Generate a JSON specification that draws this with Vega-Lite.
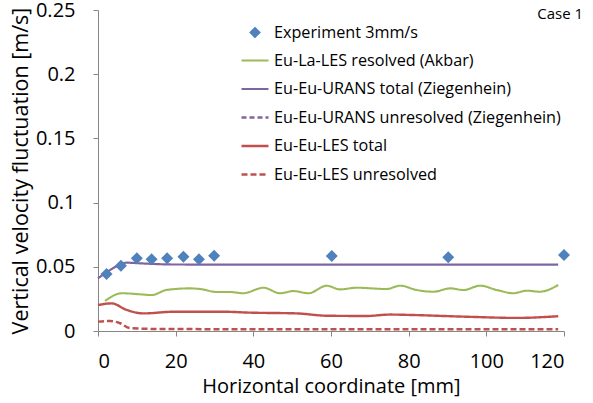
{
  "$schema": "https://vega.github.io/schema/vega-lite/v6.json",
  "width": 466,
  "height": 321,
  "autosize": {"type": "none"},
  "padding": {"left": 98, "top": 10, "right": 29, "bottom": 72},
  "config": {
    "view": {"stroke": null},
    "font": "Open Sans",
    "axis": {
      "grid": false,
      "domainColor": "#868686",
      "tickColor": "#868686",
      "tickSize": 5,
      "labelColor": "#000000",
      "titleColor": "#000000",
      "labelFontSize": 20,
      "titleFontSize": 20,
      "titleFontWeight": "normal",
      "labelFont": "Open Sans",
      "titleFont": "Open Sans"
    },
    "legend": {
      "labelFont": "Open Sans",
      "labelFontSize": 16.2,
      "labelColor": "#000000",
      "labelLimit": 0,
      "symbolSize": 729,
      "symbolStrokeWidth": 2.5,
      "labelOffset": 4,
      "rowPadding": 4.5,
      "padding": 0
    }
  },
  "data": {
    "values": [
      {"series": "Experiment 3mm/s", "x": 2.2, "y": 0.0444},
      {"series": "Experiment 3mm/s", "x": 5.9, "y": 0.0509},
      {"series": "Experiment 3mm/s", "x": 10, "y": 0.0566},
      {"series": "Experiment 3mm/s", "x": 13.8, "y": 0.0558},
      {"series": "Experiment 3mm/s", "x": 17.8, "y": 0.0566},
      {"series": "Experiment 3mm/s", "x": 22, "y": 0.0579},
      {"series": "Experiment 3mm/s", "x": 26, "y": 0.0558},
      {"series": "Experiment 3mm/s", "x": 29.9, "y": 0.0587},
      {"series": "Experiment 3mm/s", "x": 60.2, "y": 0.0584},
      {"series": "Experiment 3mm/s", "x": 90.2, "y": 0.0574},
      {"series": "Experiment 3mm/s", "x": 120, "y": 0.0592},

      {"series": "Eu-La-LES resolved (Akbar)", "x": 1.8, "y": 0.0234},
      {"series": "Eu-La-LES resolved (Akbar)", "x": 6.1, "y": 0.0294},
      {"series": "Eu-La-LES resolved (Akbar)", "x": 10.8, "y": 0.0286},
      {"series": "Eu-La-LES resolved (Akbar)", "x": 13.8, "y": 0.028},
      {"series": "Eu-La-LES resolved (Akbar)", "x": 17.7, "y": 0.032},
      {"series": "Eu-La-LES resolved (Akbar)", "x": 23.7, "y": 0.0332},
      {"series": "Eu-La-LES resolved (Akbar)", "x": 26.3, "y": 0.0327},
      {"series": "Eu-La-LES resolved (Akbar)", "x": 30.6, "y": 0.0304},
      {"series": "Eu-La-LES resolved (Akbar)", "x": 34, "y": 0.0304},
      {"series": "Eu-La-LES resolved (Akbar)", "x": 37.4, "y": 0.0294},
      {"series": "Eu-La-LES resolved (Akbar)", "x": 42.6, "y": 0.0337},
      {"series": "Eu-La-LES resolved (Akbar)", "x": 46.9, "y": 0.0294},
      {"series": "Eu-La-LES resolved (Akbar)", "x": 50.3, "y": 0.0311},
      {"series": "Eu-La-LES resolved (Akbar)", "x": 54.2, "y": 0.0294},
      {"series": "Eu-La-LES resolved (Akbar)", "x": 58.9, "y": 0.0353},
      {"series": "Eu-La-LES resolved (Akbar)", "x": 62.3, "y": 0.0324},
      {"series": "Eu-La-LES resolved (Akbar)", "x": 66.6, "y": 0.0337},
      {"series": "Eu-La-LES resolved (Akbar)", "x": 74.3, "y": 0.0327},
      {"series": "Eu-La-LES resolved (Akbar)", "x": 77.8, "y": 0.0353},
      {"series": "Eu-La-LES resolved (Akbar)", "x": 82.1, "y": 0.0319},
      {"series": "Eu-La-LES resolved (Akbar)", "x": 86.4, "y": 0.0306},
      {"series": "Eu-La-LES resolved (Akbar)", "x": 90.7, "y": 0.0332},
      {"series": "Eu-La-LES resolved (Akbar)", "x": 94.1, "y": 0.0319},
      {"series": "Eu-La-LES resolved (Akbar)", "x": 98.4, "y": 0.0353},
      {"series": "Eu-La-LES resolved (Akbar)", "x": 102.7, "y": 0.0319},
      {"series": "Eu-La-LES resolved (Akbar)", "x": 107, "y": 0.0294},
      {"series": "Eu-La-LES resolved (Akbar)", "x": 110.4, "y": 0.0314},
      {"series": "Eu-La-LES resolved (Akbar)", "x": 113.8, "y": 0.0306},
      {"series": "Eu-La-LES resolved (Akbar)", "x": 118.5, "y": 0.0358},

      {"series": "Eu-Eu-URANS total (Ziegenhein)", "x": 0, "y": 0.041},
      {"series": "Eu-Eu-URANS total (Ziegenhein)", "x": 3.1, "y": 0.0475},
      {"series": "Eu-Eu-URANS total (Ziegenhein)", "x": 7.4, "y": 0.0532},
      {"series": "Eu-Eu-URANS total (Ziegenhein)", "x": 10.8, "y": 0.0527},
      {"series": "Eu-Eu-URANS total (Ziegenhein)", "x": 19.4, "y": 0.0518},
      {"series": "Eu-Eu-URANS total (Ziegenhein)", "x": 40, "y": 0.0517},
      {"series": "Eu-Eu-URANS total (Ziegenhein)", "x": 80, "y": 0.0517},
      {"series": "Eu-Eu-URANS total (Ziegenhein)", "x": 118.5, "y": 0.0517},

      {"series": "Eu-Eu-LES total", "x": 0, "y": 0.0202},
      {"series": "Eu-Eu-LES total", "x": 3.5, "y": 0.0215},
      {"series": "Eu-Eu-LES total", "x": 7.4, "y": 0.0164},
      {"series": "Eu-Eu-LES total", "x": 11.7, "y": 0.0137},
      {"series": "Eu-Eu-LES total", "x": 19.4, "y": 0.015},
      {"series": "Eu-Eu-LES total", "x": 32.3, "y": 0.015},
      {"series": "Eu-Eu-LES total", "x": 39.1, "y": 0.0143},
      {"series": "Eu-Eu-LES total", "x": 51.2, "y": 0.0137},
      {"series": "Eu-Eu-LES total", "x": 58.9, "y": 0.0119},
      {"series": "Eu-Eu-LES total", "x": 69.2, "y": 0.0117},
      {"series": "Eu-Eu-LES total", "x": 75.2, "y": 0.0128},
      {"series": "Eu-Eu-LES total", "x": 80.4, "y": 0.0125},
      {"series": "Eu-Eu-LES total", "x": 95, "y": 0.0111},
      {"series": "Eu-Eu-LES total", "x": 107.8, "y": 0.0102},
      {"series": "Eu-Eu-LES total", "x": 118.5, "y": 0.0115},

      {"series": "Eu-Eu-LES unresolved", "x": 0, "y": 0.0073},
      {"series": "Eu-Eu-LES unresolved", "x": 3.1, "y": 0.0078},
      {"series": "Eu-Eu-LES unresolved", "x": 5.7, "y": 0.006},
      {"series": "Eu-Eu-LES unresolved", "x": 8.2, "y": 0.0023},
      {"series": "Eu-Eu-LES unresolved", "x": 15.1, "y": 0.0016},
      {"series": "Eu-Eu-LES unresolved", "x": 40, "y": 0.0014},
      {"series": "Eu-Eu-LES unresolved", "x": 80, "y": 0.0014},
      {"series": "Eu-Eu-LES unresolved", "x": 118.5, "y": 0.0013}
    ]
  },
  "encoding": {
    "x": {
      "field": "x",
      "type": "quantitative",
      "scale": {"domain": [0, 120], "nice": false},
      "axis": {"values": [0, 20, 40, 60, 80, 100, 120], "title": "Horizontal coordinate [mm]", "labelPadding": 15, "titlePadding": 5}
    },
    "y": {
      "field": "y",
      "type": "quantitative",
      "scale": {"domain": [0, 0.25], "nice": false},
      "axis": {"values": [0, 0.05, 0.1, 0.15, 0.2, 0.25], "format": "~g", "title": "Vertical velocity fluctuation [m/s]", "titleFontSize": 21.5, "labelPadding": 18, "titlePadding": 3}
    }
  },
  "layer": [
    {
      "transform": [{"filter": "datum.series !== 'Experiment 3mm/s'"}],
      "mark": {"type": "line", "interpolate": "monotone"},
      "encoding": {
        "color": {
          "field": "series", "type": "nominal", "sort": null,
          "scale": {
            "domain": ["Experiment 3mm/s", "Eu-La-LES resolved (Akbar)", "Eu-Eu-URANS total (Ziegenhein)", "Eu-Eu-URANS unresolved (Ziegenhein)", "Eu-Eu-LES total", "Eu-Eu-LES unresolved"],
            "range": ["#4f81bd", "#9bbb59", "#8064a2", "#8064a2", "#c0504d", "#c0504d"]
          },
          "legend": {"title": null, "orient": "none", "legendX": 142, "legendY": 8}
        },
        "strokeDash": {
          "field": "series", "type": "nominal", "sort": null,
          "scale": {
            "domain": ["Experiment 3mm/s", "Eu-La-LES resolved (Akbar)", "Eu-Eu-URANS total (Ziegenhein)", "Eu-Eu-URANS unresolved (Ziegenhein)", "Eu-Eu-LES total", "Eu-Eu-LES unresolved"],
            "range": [[1, 0], [1, 0], [1, 0], [5, 3], [1, 0], [6, 3]]
          },
          "legend": {"title": null, "orient": "none", "legendX": 142, "legendY": 8}
        },
        "strokeWidth": {
          "field": "series", "type": "nominal", "sort": null,
          "scale": {
            "domain": ["Experiment 3mm/s", "Eu-La-LES resolved (Akbar)", "Eu-Eu-URANS total (Ziegenhein)", "Eu-Eu-URANS unresolved (Ziegenhein)", "Eu-Eu-LES total", "Eu-Eu-LES unresolved"],
            "range": [2, 2.5, 1.6, 1.6, 2.5, 2.5]
          },
          "legend": null
        }
      }
    },
    {
      "transform": [{"filter": "datum.series === 'Experiment 3mm/s'"}],
      "mark": {"type": "point", "filled": true, "size": 1323, "opacity": 1},
      "encoding": {
        "color": {"field": "series", "type": "nominal", "sort": null},
        "shape": {
          "field": "series", "type": "nominal", "sort": null,
          "scale": {
            "domain": ["Experiment 3mm/s", "Eu-La-LES resolved (Akbar)", "Eu-Eu-URANS total (Ziegenhein)", "Eu-Eu-URANS unresolved (Ziegenhein)", "Eu-Eu-LES total", "Eu-Eu-LES unresolved"],
            "range": ["M0,-0.33L0.33,0L0,0.33L-0.33,0Z", "stroke", "stroke", "stroke", "stroke", "stroke"]
          },
          "legend": {"title": null, "orient": "none", "legendX": 142, "legendY": 8}
        }
      }
    },
    {
      "data": {"values": [{"label": "Case 1", "x": 119, "y": 0.2465}]},
      "mark": {"type": "text", "fontSize": 15, "font": "Open Sans", "color": "#000000", "align": "center", "baseline": "middle", "clip": false},
      "encoding": {
        "text": {"field": "label", "type": "nominal"}
      }
    }
  ]
}
